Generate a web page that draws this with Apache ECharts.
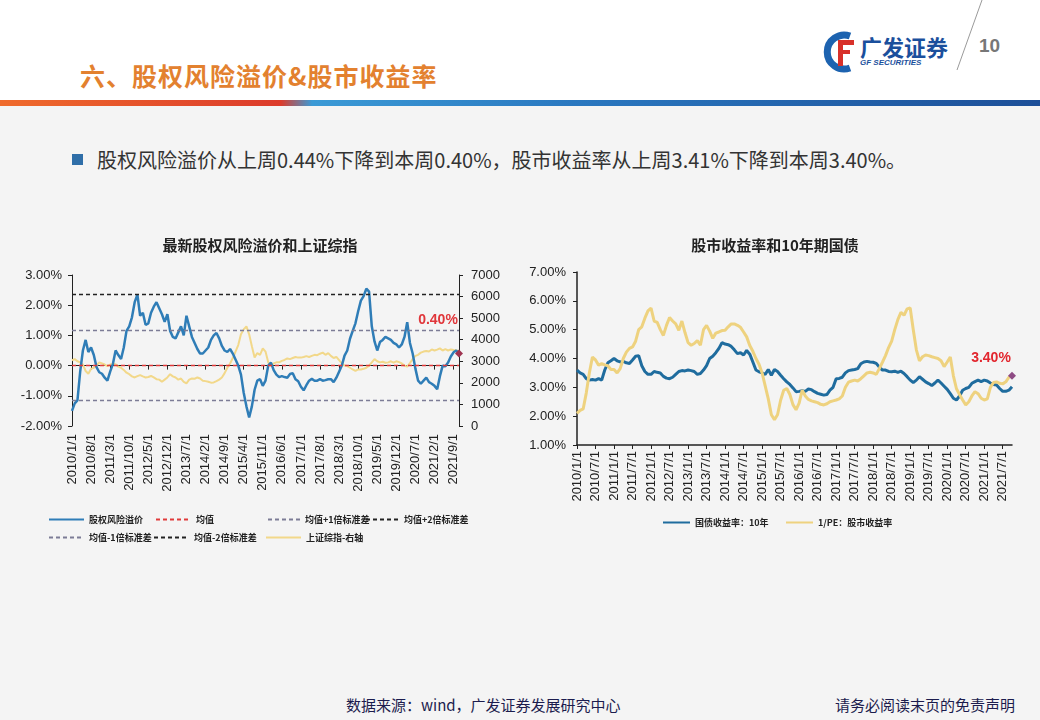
<!DOCTYPE html>
<html lang="zh">
<head>
<meta charset="UTF-8">
<title>股权风险溢价&股市收益率</title>
<script src="https://cdn.jsdelivr.net/npm/echarts@6/dist/echarts.min.js"></script>
<style>
  body{margin:0;}
  #page{position:relative;width:1040px;height:720px;background:#f4f4f4;overflow:hidden;font-family:"Noto Sans CJK SC",sans-serif;}
  .head{position:absolute;left:0;top:0;width:1040px;height:100px;background:#fff;}
  .bar{position:absolute;left:0;top:100px;width:1040px;height:6px;background:linear-gradient(to right,#ef6b2c 0%,#dc3b2b 27%,#3b9ad6 30%,#2a78c0 55%,#1d4f98 100%);}
  .title{position:absolute;left:80px;top:57px;font-size:25px;font-weight:bold;color:#e3812f;letter-spacing:1px;}
  .logo-cn{position:absolute;left:860px;top:30px;font-size:22px;font-weight:bold;color:#1b4f9c;}
  .logo-en{position:absolute;left:860px;top:58px;font-size:8px;font-weight:bold;font-style:italic;color:#1b4f9c;font-family:"Liberation Sans",sans-serif;}
  .pageno{position:absolute;left:979px;top:35px;font-size:19px;font-weight:bold;color:#777;font-family:"Liberation Sans",sans-serif;}
  .bullet{position:absolute;left:72px;top:154px;width:11px;height:11px;background:#2f6ea8;}
  .lead{position:absolute;left:97px;top:145px;font-size:20px;line-height:30px;color:#333;}
  .foot{position:absolute;top:694px;font-size:15px;color:#1c1c4e;}
  #chart{position:absolute;left:0;top:0;width:1040px;height:720px;}
</style>
</head>
<body>
<div id="page">
  <div class="head"></div>
  <div class="bar"></div>
  <div class="title">六、股权风险溢价&amp;股市收益率</div>
  <svg style="position:absolute;left:0;top:0" width="1040" height="100">
    <path d="M850 36 A17 17 0 1 0 850 68" fill="none" stroke="#1d63b0" stroke-width="7"/>
    <rect x="838" y="40" width="16" height="5" fill="#d8312a"/>
    <rect x="838" y="40" width="5" height="26" fill="#d8312a"/>
    <rect x="838" y="50" width="12" height="4" fill="#d8312a"/>
    <line x1="982" y1="0" x2="957" y2="70" stroke="#9a9a9a" stroke-width="1"/>
  </svg>
  <div class="logo-cn">广发证券</div>
  <div class="logo-en">GF SECURITIES</div>
  <div class="pageno">10</div>
  <div class="bullet"></div>
  <div class="lead">股权风险溢价从上周0.44%下降到本周0.40%，股市收益率从上周3.41%下降到本周3.40%。</div>
  <div class="foot" style="left:346px;">数据来源：wind，广发证券发展研究中心</div>
  <div class="foot" style="left:835px;">请务必阅读末页的免责声明</div>
  <div id="chart"></div>
</div>
<script>
// 股权风险溢价(%)，2010/1 - 2021/11 月度
var erpData = [-1.5,-1.25,-1.15,-0.2,0.5,0.85,0.45,0.6,0.35,-0.05,
  -0.22,-0.27,-0.4,-0.5,-0.2,0.05,0.5,0.35,0.22,0.6,
  1.15,1.3,1.6,2.1,2.35,1.65,1.75,1.35,1.4,1.75,
  1.95,2.1,1.9,1.7,1.45,1.7,1.15,0.95,0.9,1.1,
  1.3,1.0,1.65,1.3,0.95,0.75,0.55,0.4,0.4,0.5,
  0.6,0.85,1.0,1.08,0.9,0.65,0.5,0.45,0.55,0.4,
  0.2,0.0,-0.3,-0.9,-1.35,-1.72,-1.35,-0.8,-0.5,-0.45,
  -0.67,-0.5,0.0,0.1,-0.15,-0.3,-0.38,-0.35,-0.38,-0.4,
  -0.28,-0.25,-0.45,-0.52,-0.7,-0.82,-0.65,-0.5,-0.44,-0.5,
  -0.5,-0.45,-0.5,-0.48,-0.45,-0.45,-0.55,-0.4,-0.2,0.0,
  0.33,0.5,0.89,1.15,1.4,1.8,2.15,2.3,2.55,2.45,
  1.3,0.8,0.5,0.78,0.85,0.95,0.9,0.85,0.75,0.7,
  0.6,0.7,0.95,1.44,0.75,0.4,-0.1,-0.5,-0.6,-0.5,
  -0.4,-0.55,-0.6,-0.67,-0.78,-0.35,0.0,-0.02,0.1,0.3,
  0.44,0.5,0.40];
// 上证综指(右轴)
var sseData = [3050,3100,3000,2950,2850,2550,2420,2650,2700,2800,
  2950,2900,2850,2780,2850,2880,2860,2750,2700,2600,
  2470,2400,2300,2250,2310,2360,2300,2250,2270,2320,
  2250,2170,2150,2050,2150,2250,2400,2300,2250,2150,
  2200,2050,1980,2150,2200,2190,2250,2200,2100,2080,
  2050,2010,2020,2080,2150,2250,2450,2700,2900,3150,
  3450,3750,4250,4480,4620,4250,3700,3180,3380,3300,
  3600,3450,2950,2780,2900,2950,2950,3020,3060,3130,
  3100,3150,3200,3170,3170,3200,3240,3200,3250,3300,
  3280,3350,3400,3300,3380,3250,3150,3200,3050,2900,
  2800,2780,2700,2620,2550,2620,2620,2650,2700,2800,
  2950,3100,3000,2950,2980,2930,2950,3000,2940,3000,
  2960,2900,2800,2750,2920,3100,3250,3300,3400,3450,
  3480,3450,3550,3500,3540,3600,3500,3560,3500,3550,
  3520,3500,3480];
// 均值及标准差线的水平
var meanLevel = 0.01;
var plus1Level = 1.18;
var plus2Level = 2.35;
var minus1Level = -1.16;

// 国债收益率:10年(%)，2010/1 - 2021/10
var bondData = [3.6,3.5,3.45,3.3,3.25,3.27,3.25,3.3,3.25,3.6,
  3.85,3.92,4.0,3.92,3.88,3.9,3.85,3.83,3.95,4.08,
  4.1,3.75,3.55,3.45,3.45,3.55,3.52,3.5,3.38,3.32,
  3.3,3.35,3.45,3.55,3.58,3.57,3.6,3.58,3.55,3.45,
  3.48,3.6,3.75,4.0,4.08,4.2,4.35,4.55,4.5,4.48,
  4.42,4.3,4.17,4.2,4.12,4.28,4.15,3.88,3.6,3.54,
  3.5,3.45,3.62,3.42,3.62,3.55,3.42,3.3,3.19,3.1,
  2.98,2.85,2.86,2.88,2.86,2.94,2.92,2.85,2.79,2.76,
  2.73,2.75,2.9,3.0,3.3,3.31,3.35,3.5,3.58,3.6,
  3.62,3.65,3.82,3.88,3.9,3.88,3.87,3.83,3.7,3.6,
  3.6,3.55,3.54,3.56,3.52,3.56,3.48,3.37,3.25,3.17,
  3.25,3.37,3.28,3.19,3.13,3.06,3.15,3.25,3.15,3.04,
  2.93,2.78,2.62,2.56,2.7,2.9,2.96,3.0,3.14,3.2,
  3.25,3.2,3.25,3.22,3.15,3.1,3.08,2.96,2.86,2.86,
  2.9,3.02];
// 1/PE:股市收益率(%)
var epData = [2.1,2.2,2.25,2.8,3.5,4.05,3.95,3.77,3.82,3.78,
  3.75,3.62,3.62,3.5,3.65,4.0,4.22,4.35,4.4,4.6,
  5.0,5.1,5.4,5.65,5.75,5.3,5.25,5.0,4.8,5.15,
  5.42,5.3,5.2,4.98,5.3,4.9,4.55,4.46,4.52,4.62,
  4.46,5.0,5.15,4.95,4.7,4.88,4.92,4.97,4.98,5.1,
  5.2,5.2,5.15,5.08,4.92,4.75,4.45,4.25,4.0,3.8,
  3.5,3.05,2.6,2.05,1.88,2.05,2.55,2.9,2.96,2.75,
  2.4,2.22,2.45,2.9,2.7,2.58,2.53,2.5,2.47,2.41,
  2.39,2.43,2.5,2.53,2.56,2.6,2.7,3.0,3.18,3.22,
  3.25,3.22,3.3,3.4,3.5,3.52,3.5,3.45,3.65,3.87,
  4.1,4.38,4.6,5.0,5.35,5.6,5.5,5.72,5.75,5.0,
  4.3,3.92,4.06,4.12,4.1,4.06,4.03,4.0,3.92,3.72,
  3.88,4.05,3.4,2.95,2.75,2.56,2.39,2.5,2.7,2.85,
  2.78,2.62,2.56,2.6,3.0,3.17,3.19,3.14,3.12,3.19,
  3.35,3.40];

// 月度日期标签 yyyy/m/1
function buildMonths(n) {
  var list = [];
  for (var k = 0; k < n; k++) {
    list.push((2010 + Math.floor(k / 12)) + '/' + (k % 12 + 1) + '/1');
  }
  return list;
}
var leftMonths = buildMonths(erpData.length);
var rightMonths = buildMonths(bondData.length);

var numFont = 'Liberation Sans';
var cnFont = 'Noto Sans CJK SC';
var axisColor = '#222';

function pct(v) { return v.toFixed(2) + '%'; }

function legendItem(name, left, top, w) {
  return {
    data: [name], left: left, top: top, padding: 0,
    itemWidth: w, itemHeight: 10, itemGap: 4,
    itemStyle: { opacity: 0 },
    selectedMode: false,
    textStyle: { fontSize: 9, fontWeight: 'bold', color: '#222', fontFamily: cnFont }
  };
}

function bandSeries(name, color, level) {
  return {
    name: name, type: 'line', xAxisIndex: 0, yAxisIndex: 0, data: [],
    symbol: 'none',
    lineStyle: { color: color, type: [4, 3], width: 1.3 },
    itemStyle: { color: color },
    markLine: level === null ? undefined : {
      silent: true, symbol: 'none', label: { show: false },
      lineStyle: { color: color, type: [4, 3], width: 1.3 },
      data: [{ yAxis: level }]
    }
  };
}

var option = {
  animation: false,
  title: [
    { text: '最新股权风险溢价和上证综指', left: 255, top: 233, textAlign: 'center',
      textStyle: { fontSize: 15, fontWeight: 'bold', color: '#222', fontFamily: cnFont } },
    { text: '股市收益率和10年期国债', left: 770, top: 233, textAlign: 'center',
      textStyle: { fontSize: 15, fontWeight: 'bold', color: '#222', fontFamily: cnFont } }
  ],
  legend: [
    legendItem('股权风险溢价', 48, 515, 35),
    legendItem('均值', 155, 515, 35),
    legendItem('均值+1倍标准差', 267, 515, 32),
    legendItem('均值+2倍标准差', 365, 515, 33),
    legendItem('均值-1倍标准差', 48, 533, 35),
    legendItem('均值-2倍标准差', 153, 533, 35),
    legendItem('上证综指-右轴', 265, 533, 35),
    legendItem('国债收益率：10年', 662, 518, 27),
    legendItem('1/PE：股市收益率', 785, 518, 27)
  ],
  grid: [
    { left: 72, top: 275, width: 387, height: 151 },
    { left: 577, top: 272, width: 435, height: 173 }
  ],
  xAxis: [
    {
      type: 'category', gridIndex: 0, data: leftMonths, boundaryGap: false, position: 'bottom',
      axisLine: { onZero: true, lineStyle: { color: axisColor, width: 1 } },
      axisTick: { interval: 6, length: 4, lineStyle: { color: axisColor } },
      axisLabel: { show: false }
    },
    {
      type: 'category', gridIndex: 0, data: leftMonths, boundaryGap: false, position: 'bottom',
      axisLine: { show: false, onZero: false },
      axisTick: { show: false },
      axisLabel: { interval: 6, rotate: 90, margin: 8, fontSize: 13, color: axisColor, fontFamily: numFont }
    },
    {
      type: 'category', gridIndex: 1, data: rightMonths, boundaryGap: false, position: 'bottom',
      axisLine: { lineStyle: { color: axisColor, width: 1.5 } },
      axisTick: { interval: 5, length: 4, lineStyle: { color: axisColor } },
      axisLabel: { interval: 5, rotate: 90, margin: 6, fontSize: 13, color: axisColor, fontFamily: numFont }
    }
  ],
  yAxis: [
    {
      type: 'value', gridIndex: 0, min: -2, max: 3, interval: 1, position: 'left',
      axisLine: { show: true, lineStyle: { color: axisColor } },
      axisTick: { show: true, length: 4 },
      splitLine: { show: false },
      axisLabel: { formatter: pct, margin: 10, fontSize: 13, color: axisColor, fontFamily: numFont }
    },
    {
      type: 'value', gridIndex: 0, min: 0, max: 7000, interval: 1000, position: 'right',
      axisLine: { show: true, lineStyle: { color: axisColor } },
      axisTick: { show: true, length: 4 },
      splitLine: { show: false },
      axisLabel: { formatter: function (v) { return String(v); }, margin: 12, fontSize: 13, color: axisColor, fontFamily: numFont }
    },
    {
      type: 'value', gridIndex: 1, min: 1, max: 7, interval: 1, position: 'left',
      axisLine: { show: true, lineStyle: { color: axisColor, width: 1.5 } },
      axisTick: { show: true, length: 4 },
      splitLine: { show: false },
      axisLabel: { formatter: pct, margin: 11, fontSize: 13, color: axisColor, fontFamily: numFont }
    }
  ],
  series: [
    bandSeries('均值', '#e03a3a', meanLevel),
    bandSeries('均值+1倍标准差', '#7c7c96', plus1Level),
    bandSeries('均值+2倍标准差', '#222', plus2Level),
    bandSeries('均值-1倍标准差', '#7c7c96', minus1Level),
    bandSeries('均值-2倍标准差', '#222', null),
    {
      name: '上证综指-右轴', type: 'line', xAxisIndex: 0, yAxisIndex: 1, data: sseData,
      symbol: 'none', lineStyle: { color: '#f2d88a', width: 2 }, itemStyle: { color: '#f2d88a' }
    },
    {
      name: '股权风险溢价', type: 'line', xAxisIndex: 0, yAxisIndex: 0, data: erpData,
      symbol: 'none', lineStyle: { color: '#2f7db7', width: 2.5 }, itemStyle: { color: '#2f7db7' },
      markPoint: {
        symbol: 'diamond', symbolSize: 8, itemStyle: { color: '#9e3350', opacity: 1 },
        label: { show: true, position: 'top', formatter: pct(erpData[erpData.length - 1]), offset: [-21, -17],
          color: '#e0363a', fontSize: 14, fontWeight: 'bold', fontFamily: numFont },
        data: [{ coord: [leftMonths[leftMonths.length - 1], erpData[erpData.length - 1]] }]
      }
    },
    {
      name: '国债收益率：10年', type: 'line', xAxisIndex: 2, yAxisIndex: 2, data: bondData,
      symbol: 'none', lineStyle: { color: '#1f6c9e', width: 3 }, itemStyle: { color: '#1f6c9e' }
    },
    {
      name: '1/PE：股市收益率', type: 'line', xAxisIndex: 2, yAxisIndex: 2, data: epData,
      symbol: 'none', lineStyle: { color: '#eed27f', width: 3 }, itemStyle: { color: '#eed27f' },
      markPoint: {
        symbol: 'diamond', symbolSize: 8, itemStyle: { color: '#8e4b84', opacity: 1 },
        label: { show: true, position: 'top', formatter: pct(epData[epData.length - 1]), offset: [-21, -2],
          color: '#e2262e', fontSize: 14, fontWeight: 'bold', fontFamily: numFont },
        data: [{ coord: [rightMonths[rightMonths.length - 1], epData[epData.length - 1]] }]
      }
    }
  ]
};

var myChart = echarts.init(document.getElementById('chart'));
myChart.setOption(option);
</script>
</body>
</html>
